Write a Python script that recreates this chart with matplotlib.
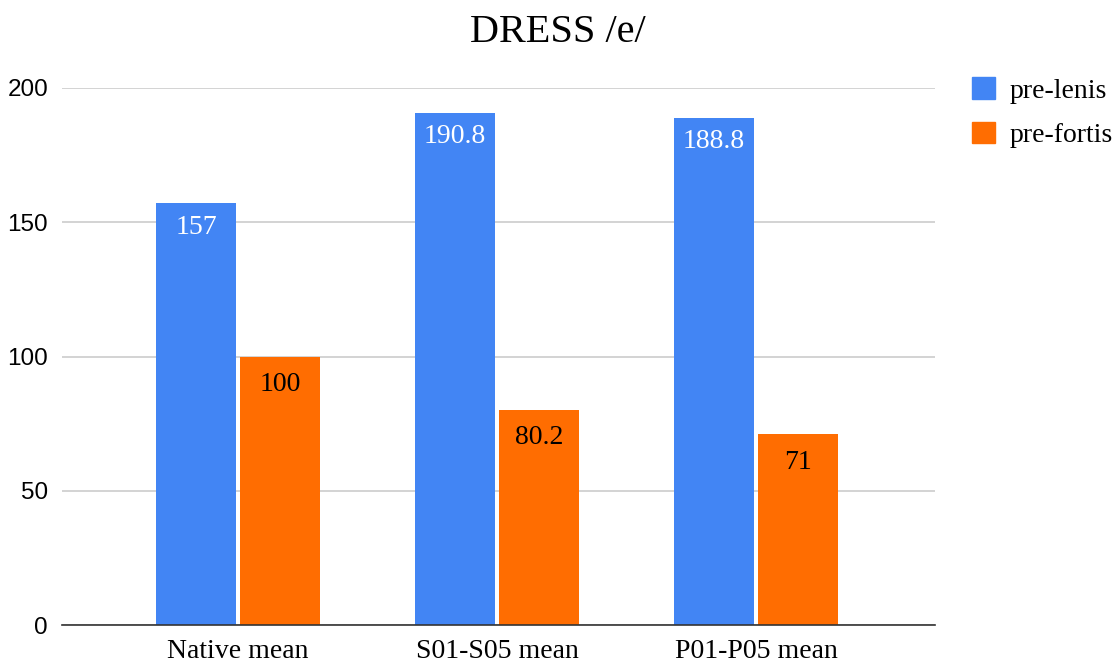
import matplotlib.pyplot as plt
import numpy as np
from matplotlib.patches import Patch

groups = ["Native mean", "S01-S05 mean", "P01-P05 mean"]
pre_lenis = [157, 190.8, 188.8]
pre_fortis = [100, 80.2, 71]
series_names = ["pre-lenis", "pre-fortis"]
value_text_lenis = ["157", "190.8", "188.8"]
value_text_fortis = ["100", "80.2", "71"]

blue = "#4285F4"
orange = "#FF6D01"
serif = ["Liberation Serif", "DejaVu Serif"]
sans = ["Liberation Sans", "DejaVu Sans"]

fig = plt.figure(figsize=(11.16, 6.62), dpi=100)
ax = fig.add_axes([62 / 1116, 37 / 662, (935 - 62) / 1116, (625 - 88) / 662])

x = np.arange(len(groups))
w = 0.309
gap = 0.008
b1 = ax.bar(x - w / 2 - gap, pre_lenis, w, color=blue, zorder=3)
b2 = ax.bar(x + w / 2 + gap, pre_fortis, w, color=orange, zorder=3)

# value labels just inside the top of each bar
for rect, txt in zip(b1, value_text_lenis):
    ax.annotate(txt, (rect.get_x() + rect.get_width() / 2, rect.get_height()),
                xytext=(0, -17), textcoords="offset points", ha="center", va="center",
                color="white", fontsize=20, family=serif, zorder=4)
for rect, txt in zip(b2, value_text_fortis):
    ax.annotate(txt, (rect.get_x() + rect.get_width() / 2, rect.get_height()),
                xytext=(0, -20), textcoords="offset points", ha="center", va="center",
                color="black", fontsize=20, family=serif, zorder=4)

ax.set_xlim(-0.68, 2.69)
ax.set_ylim(0, 200)
ax.set_yticks([0, 50, 100, 150, 200])
ax.yaxis.grid(True, color="#cccccc", linewidth=1.2, zorder=0)
ax.set_xticks(x)
ax.set_xticklabels(groups, family=serif, fontsize=20)
for lab in ax.get_yticklabels():
    lab.set_family(sans)
    lab.set_fontsize(17.5)
ax.tick_params(axis="y", length=0, pad=10)
ax.tick_params(axis="x", length=0, pad=10)

for s in ["top", "right", "left"]:
    ax.spines[s].set_visible(False)
ax.spines["bottom"].set_color("#333333")
ax.spines["bottom"].set_linewidth(1.2)
ax.spines["bottom"].set_zorder(5)

fig.text(0.5, 1 - 33 / 662, "DRESS /e/", ha="center", va="center",
         family=serif, fontsize=29)

handles = [Patch(color=blue), Patch(color=orange)]
fig.legend(handles, series_names, loc="upper left", bbox_to_anchor=(972 / 1116, 1 - 77 / 662),
           frameon=False, prop={"family": serif, "size": 20}, borderaxespad=0, borderpad=0,
           handlelength=0.83, handleheight=0.83, handletextpad=0.54, labelspacing=0.65)

fig.savefig("out.png", dpi=100)
